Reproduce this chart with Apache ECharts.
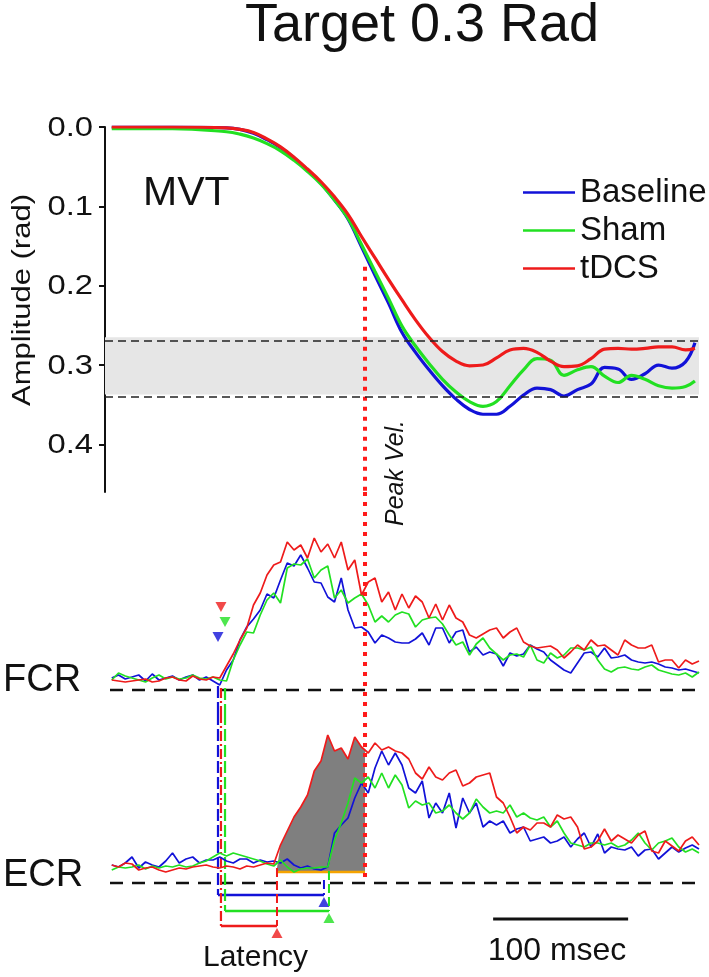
<!DOCTYPE html>
<html><head><meta charset="utf-8">
<script src="https://cdn.jsdelivr.net/npm/echarts@6/dist/echarts.min.js"></script>
<style>html,body{margin:0;padding:0;background:#fff}#c{width:709px;height:977px}</style>
</head><body><div id="c"></div>
<script>
// ---------------- DATA ----------------
const conditions = ['Baseline', 'Sham', 'tDCS'];

// MVT: wrist amplitude (rad) vs time (ms)
const mvtTime = [5, 50, 90, 100, 110, 120, 130, 140, 150, 160, 170, 180, 190, 200, 210, 220, 230, 240, 250, 260, 270, 280, 290, 300, 310, 320, 330, 340, 350, 360, 370, 380, 390, 400, 410, 420, 430, 437];
const mvtBaseline = [0, 0, 0.001, 0.003, 0.008, 0.016, 0.026, 0.039, 0.054, 0.071, 0.092, 0.116, 0.151, 0.187, 0.222, 0.259, 0.284, 0.306, 0.326, 0.343, 0.356, 0.362, 0.362, 0.352, 0.338, 0.329, 0.331, 0.339, 0.331, 0.324, 0.303, 0.305, 0.318, 0.311, 0.300, 0.304, 0.296, 0.272];
const mvtSham = [0.002, 0.002, 0.006, 0.009, 0.014, 0.021, 0.030, 0.042, 0.056, 0.072, 0.092, 0.115, 0.148, 0.182, 0.216, 0.251, 0.276, 0.298, 0.318, 0.334, 0.346, 0.352, 0.346, 0.326, 0.306, 0.292, 0.294, 0.313, 0.306, 0.302, 0.314, 0.322, 0.313, 0.318, 0.326, 0.329, 0.327, 0.320];
const mvtTdcs = [0, 0, 0.001, 0.003, 0.007, 0.015, 0.025, 0.038, 0.053, 0.069, 0.088, 0.110, 0.138, 0.165, 0.192, 0.218, 0.243, 0.265, 0.283, 0.295, 0.301, 0.300, 0.291, 0.281, 0.279, 0.284, 0.295, 0.302, 0.301, 0.292, 0.280, 0.279, 0.280, 0.279, 0.277, 0.277, 0.281, 0.279];
const targetBand = [0.265, 0.337];
const yTicks = [0, 0.1, 0.2, 0.3, 0.4];
const yTickLabels = ['0.0', '0.1', '0.2', '0.3', '0.4'];

// EMG (arbitrary units) vs time (ms)
const emgTime = [5,10,15,20,25,30,35,40,45,50,55,60,65,70,75,80,85,90,95,100,105,110,115,120,125,130,135,140,145,150,155,160,165,170,175,180,185,190,195,200,205,210,215,220,225,230,235,240,245,250,255,260,265,270,275,280,285,290,295,300,305,310,315,320,325,330,335,340,345,350,355,360,365,370,375,380,385,390,395,400,405,410,415,420,425,430,435,440];
const fcrBaseline = [12,15,11,13,15,9,16,10,12,14, 10,13,15,10,13,9,5,20,30,50, 63,71,80,96,92,110,127,124,135,122, 108,107,93,88,112,80,62,63,58,47, 55,52,48,47,47,51,57,45,62,62, 47,58,60,38,43,35,38,36,24,37, 34,36,45,41,38,30,25,20,17,27, 37,38,33,42,32,33,35,30,28,27, 28,26,23,22,20,21,19,17];
const fcrSham = [10,17,14,12,10,8,12,15,11,13, 11,12,15,12,11,13,10,9,30,45, 58,57,75,90,97,87,122,126,125,131, 112,120,124,92,100,87,92,96,85,68, 74,68,75,78,76,63,70,72,73,66, 55,45,48,35,46,52,42,36,30,35, 36,33,45,30,27,37,32,35,42,42, 40,43,30,21,18,22,23,21,20,23, 25,20,18,16,15,17,13,18];
const fcrTdcs = [10,9,8,9,10,11,8,9,12,13, 10,9,14,11,10,13,12,24,36,50, 62,85,97,115,125,128,148,140,145,132, 152,138,146,132,148,120,130,95,108,112, 88,98,80,96,82,94,88,72,86,70, 85,72,68,55,52,56,60,62,52,58, 62,48,44,42,43,44,40,32,38,45, 40,50,44,45,40,35,50,45,42,42, 45,28,30,30,22,30,26,29];
const ecrBaseline = [18,16,20,26,15,21,18,16,22,30, 20,24,26,20,23,23,26,22,20,24, 24,20,23,21,22,20,24,18,15,17, 14,13,16,50,58,65,85,100,90,115, 132,118,130,118,95,90,102,65,80,70, 90,55,85,70,80,56,62,58,62,50, 54,56,42,44,46,40,42,46,36,44, 50,36,49,30,36,34,33,36,27,33, 34,24,30,36,31,35,38,34];
const ecrSham = [13,16,15,16,18,14,17,15,17,16, 18,16,17,20,22,26,30,27,30,28, 26,24,22,19,17,23,16,11,14,15, 15,16,16,43,60,80,105,100,106,95, 110,95,108,98,75,82,78,80,70,72, 78,70,64,70,84,76,70,72,70,78, 66,70,65,63,66,56,62,50,40,38, 36,40,40,38,40,36,38,43,50,40, 33,40,42,45,36,31,34,30];
const ecrTdcs = [18,16,20,19,13,15,16,13,11,13, 15,14,16,17,18,16,15,17,16,14, 17,16,18,20,19,38,52,66,76,88, 112,122,148,132,135,124,146,136,130,140, 133,136,132,130,124,110,104,116,106,103, 110,113,97,100,106,108,110,86,80,66, 50,56,53,60,60,56,68,64,66,56, 34,36,42,54,42,48,44,40,48,52, 32,30,42,37,32,42,46,38];

// onsets (ms), peak velocity (ms), scale bar (ms)
const onsetFCR = [83.7, 88.9, 85.9];
const onsetECR = [162.2, 165.9, 127.4];
const peakVelTime = 192.6;
const peakVelAmplitude = 0.176;
const scaleBarStart = 287.5;
const scaleBarMs = 100;

// ---------------- STYLE / LAYOUT ----------------
const colors = ['#1212d8', '#22e022', '#ee1b1b'];
const FONT = '"Liberation Sans", Arial, Helvetica, sans-serif';
const fcrLineTop = [4, 2, 2];
const fcrTriLevel = [53, 68, 83];
const ecrLineTop = [3, 12, 15];
const bracketLevel = [-12, -28, -43];
const bracketTri = [-19, -35, -50];
const fillBottom = 11;
const onsetDash = [[12, 4], [12, 4], [10, 3, 2, 3]];

const zip = (t, v) => t.map((x, i) => [x, v[i]]);
const mvt = [mvtBaseline, mvtSham, mvtTdcs];
const fcr = [fcrBaseline, fcrSham, fcrTdcs];
const ecr = [ecrBaseline, ecrSham, ecrTdcs];

const chart = echarts.init(document.getElementById('c'), null, {renderer: 'canvas'});

const grids = [
  {left: 105, top: 127, width: 594, height: 365},
  {left: 105, top: 492, width: 594, height: 221},
  {left: 105, top: 713, width: 594, height: 230}
].map(g => Object.assign(g, {outerBoundsMode: 'none', containLabel: false}));

const xAxes = [0, 1, 2].map(i => ({type: 'value', gridIndex: i, min: 0, max: 440, show: false}));
const yAxes = [
  {type: 'value', gridIndex: 0, min: 0, max: 0.46, inverse: true, interval: 0.1,
   axisLine: {show: true, lineStyle: {color: '#111', width: 2}},
   axisTick: {show: true, length: 6, inside: false, lineStyle: {color: '#111', width: 2}, customValues: yTicks},
   axisLabel: {show: false}, splitLine: {show: false}},
  {type: 'value', gridIndex: 1, min: -23, max: 198, show: false},
  {type: 'value', gridIndex: 2, min: -60, max: 170, show: false}
];

const series = [];
const seg = (g, data, color, width, type, extra) => Object.assign({
  type: 'line', xAxisIndex: g, yAxisIndex: g, data: data, showSymbol: false, silent: true,
  lineStyle: {color: color, width: width, type: type || 'solid'}, itemStyle: {color: color},
  emphasis: {disabled: true}, animation: false
}, extra || {});

// target band
series.push(seg(0, [], '#000', 0, 'solid', {
  markArea: {silent: true, itemStyle: {color: '#e6e6e6'}, data: [[{yAxis: targetBand[0]}, {yAxis: targetBand[1]}]]},
  markLine: {silent: true, symbol: 'none', animation: false, label: {show: false},
    lineStyle: {color: '#222', width: 1.6, type: [8, 5]},
    data: [{yAxis: targetBand[0]}, {yAxis: targetBand[1]}]}
}));

// MVT curves
for (let i = 0; i < 3; i++) {
  series.push(seg(0, zip(mvtTime, mvt[i]), colors[i], 3.2, 'solid', {name: conditions[i], smooth: 0.4}));
}

// ECR gray fill (tDCS, onset -> peak velocity)
(function () {
  const pts = [[onsetECR[2], 15]];
  let prev = null, next = null;
  emgTime.forEach((t, i) => {
    if (t > onsetECR[2] && t < peakVelTime) { pts.push([t, ecrTdcs[i]]); prev = [t, ecrTdcs[i]]; }
    if (t >= peakVelTime && !next) next = [t, ecrTdcs[i]];
  });
  const f = (peakVelTime - prev[0]) / (next[0] - prev[0]);
  pts.push([peakVelTime, prev[1] + f * (next[1] - prev[1])]);
  series.push(seg(2, pts, '#7f7f7f', 0, 'solid', {areaStyle: {color: '#7f7f7f', opacity: 1, origin: fillBottom}}));
  series.push(seg(2, [[onsetECR[2], fillBottom], [peakVelTime, fillBottom]], '#f5a300', 2.5));
})();

// zero lines (dashed black)
series.push(seg(1, [[3.7, 0], [439, 0]], '#111', 2.6, [13, 9]));
series.push(seg(2, [[3.7, 0], [439, 0]], '#111', 2.6, [13, 9]));

// onset lines & latency brackets
for (let i = 0; i < 3; i++) {
  const c = colors[i], d = onsetDash[i];
  series.push(seg(1, [[onsetFCR[i], fcrLineTop[i]], [onsetFCR[i], -23]], c, 2.2, d));
  series.push(seg(2, [[onsetFCR[i], 170], [onsetFCR[i], bracketLevel[i]]], c, 2.2, d));
  series.push(seg(2, [[onsetFCR[i], bracketLevel[i]], [onsetECR[i], bracketLevel[i]]], c, 2.5));
  series.push(seg(2, [[onsetECR[i], ecrLineTop[i]], [onsetECR[i], bracketLevel[i]]], c, 2, [9, 4]));
  series.push({type: 'scatter', xAxisIndex: 2, yAxisIndex: 2, silent: true, animation: false,
    symbol: 'triangle', symbolSize: [11, 10], itemStyle: {color: c}, data: [[onsetECR[i], bracketTri[i]]]});
  series.push({type: 'scatter', xAxisIndex: 1, yAxisIndex: 1, silent: true, animation: false,
    symbol: 'triangle', symbolRotate: 180, symbolSize: [11, 10], itemStyle: {color: c}, data: [[onsetFCR[i], fcrTriLevel[i]]]});
}

// EMG traces
for (let i = 0; i < 3; i++) {
  series.push(seg(1, zip(emgTime, fcr[i]), colors[i], 1.7));
}
for (let i = 0; i < 3; i++) {
  series.push(seg(2, zip(emgTime, ecr[i]), colors[i], 1.7));
}

// peak velocity dotted line
const pvStyle = [4, 6];
series.push(seg(0, [[peakVelTime, peakVelAmplitude], [peakVelTime, 0.46]], '#ff1a1a', 4, pvStyle));
series.push(seg(1, [[peakVelTime, 198], [peakVelTime, -23]], '#ff1a1a', 4, pvStyle));
series.push(seg(2, [[peakVelTime, 170], [peakVelTime, 0]], '#ff1a1a', 4, pvStyle));

// scale bar
series.push(seg(2, [[scaleBarStart, -36], [scaleBarStart + scaleBarMs, -36]], '#111', 3));

const txt = (text, x, y, size, opts) => Object.assign({
  type: 'text', x: x, y: y, silent: true,
  style: Object.assign({text: text, fontSize: size, fontFamily: FONT, fill: '#111', align: 'left', verticalAlign: 'middle'}, (opts && opts.style) || {})
}, (opts && opts.el) || {});

const option = {
  animation: false,
  backgroundColor: '#fff',
  grid: grids,
  xAxis: xAxes,
  yAxis: yAxes,
  legend: {
    data: conditions, orient: 'vertical', left: 518, top: 171, itemWidth: 52, itemHeight: 2.5, icon: 'rect',
    itemGap: 5, selectedMode: false,
    textStyle: {fontSize: 33, fontFamily: FONT, color: '#111', lineHeight: 30}
  },
  series: series
};
chart.setOption(option);

const graphics = [
  txt('Target 0.3 Rad', 422, 26, 54, {style: {align: 'center'}}),
  txt('MVT', 143, 194, 41),
  txt('FCR', 3, 681, 38),
  txt('ECR', 3, 876, 38),
  txt('Latency', 203, 958, 30),
  txt(String(scaleBarMs) + ' msec', 557, 951, 32, {style: {align: 'center'}}),
  txt('Peak Vel.', 396, 473, 25, {style: {align: 'center', fontStyle: 'italic'}, el: {rotation: Math.PI / 2}}),
  txt('Amplitude (rad)', 23, 300, 25, {style: {align: 'center'}, el: {rotation: Math.PI / 2, scaleX: 1.24}})
];
yTicks.forEach((v, i) => {
  const p = chart.convertToPixel({xAxisIndex: 0, yAxisIndex: 0}, [0, v]);
  graphics.push(txt(yTickLabels[i], p[0] - 12, p[1] + 1, 28, {style: {align: 'right'}, el: {scaleX: 1.17}}));
});
chart.setOption({graphic: graphics});
</script>
</body></html>
